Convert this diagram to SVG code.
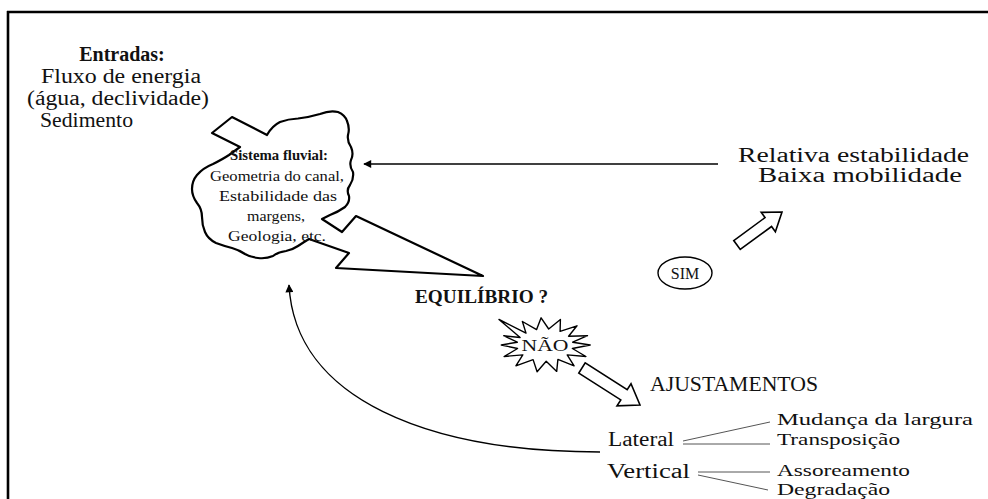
<svg xmlns="http://www.w3.org/2000/svg" width="988" height="499" viewBox="0 0 988 499">
<defs>
<style>
text{font-family:"Liberation Serif","DejaVu Serif",serif;fill:#111}
.b{font-weight:bold}
.outline{fill:#fff;stroke:#000;stroke-width:2.2;stroke-linejoin:round}
.thin{fill:none;stroke:#000;stroke-width:1.4}
.br{fill:none;stroke:#555;stroke-width:1}
.hollow{fill:#fff;stroke:#000;stroke-width:1.6;stroke-linejoin:miter}
</style>
<marker id="ah" viewBox="0 0 10 10" refX="9" refY="5" markerUnits="userSpaceOnUse" markerWidth="9" markerHeight="8" orient="auto">
<path d="M0,0 L10,5 L0,10 z" fill="#000"/>
</marker>
</defs>
<rect width="988" height="499" fill="#fff"/>
<g id="frame">
<path d="M7,12 H988 M8,11 V499" fill="none" stroke="#000" stroke-width="2.6"/>
</g>

<g id="entradas">
<text class="b" x="122" y="61" font-size="20" text-anchor="middle">Entradas:</text>
<text x="121" y="83" font-size="20" text-anchor="middle" textLength="160" lengthAdjust="spacingAndGlyphs">Fluxo de energia</text>
<text x="118" y="105" font-size="20" text-anchor="middle" textLength="182" lengthAdjust="spacingAndGlyphs">(água, declividade)</text>
<text x="40" y="127" font-size="20" textLength="93" lengthAdjust="spacingAndGlyphs">Sedimento</text>
</g>

<g id="sistema">
<path class="outline" d="M267,135 Q272,126 280,122 Q288,119 298,118.5 Q310,117 320,114 Q330,110 338,112 Q345,115 347,121 Q350,128 348,135 Q347,141 351,147 Q354,154 351,160 Q349,166 353,172 Q354,179 350,185 Q346,190 349,196 Q350,202 345,207 Q338,212 330,215 L322,219 L342,232 L356,216 L483,276 L336,268 L349,253 L309,239 Q304,242 298,246 Q292,250 286,251 Q278,252 273,256 Q266,259 258,258 Q250,257 245,254 Q239,250 232,248 Q224,246 216,243 Q208,239 205,232 Q202,225 202,217 Q202,209 197,203 Q192,196 192,189 Q192,181 197,175 Q203,168 213,164 Q223,159 229,155 L240,147 L212,133 L232,117 Z"/>
<text class="b" x="279" y="160" font-size="15" text-anchor="middle" textLength="98" lengthAdjust="spacingAndGlyphs">Sistema fluvial:</text>
<text x="277" y="181" font-size="15" text-anchor="middle" textLength="134" lengthAdjust="spacingAndGlyphs">Geometria do canal,</text>
<text x="278" y="201" font-size="15" text-anchor="middle" textLength="118" lengthAdjust="spacingAndGlyphs">Estabilidade das</text>
<text x="276" y="221" font-size="15" text-anchor="middle" textLength="58" lengthAdjust="spacingAndGlyphs">margens,</text>
<text x="277" y="241" font-size="15" text-anchor="middle" textLength="98" lengthAdjust="spacingAndGlyphs">Geologia, etc.</text>
</g>

<g id="relativa">
<text x="738" y="162" font-size="20" textLength="231" lengthAdjust="spacingAndGlyphs">Relativa estabilidade</text>
<text x="758" y="182" font-size="20" textLength="204" lengthAdjust="spacingAndGlyphs">Baixa mobilidade</text>
</g>

<g id="equilibrio">
<text class="b" x="415" y="303" font-size="19" textLength="133" lengthAdjust="spacingAndGlyphs">EQUILÍBRIO ?</text>
</g>

<g id="sim">
<ellipse cx="685" cy="273" rx="27" ry="16" fill="#fff" stroke="#000" stroke-width="1.4"/>
<text x="685" y="279" font-size="16" text-anchor="middle">SIM</text>
</g>

<g id="nao">
<polygon class="outline" style="stroke-width:1.4" points="590.2,345 572.4,348.5 585.9,356.5 567.2,354.9 574.1,365.8 557.9,359.4 556.7,371.4 546.2,361.2 537.1,371.8 533.1,359.6 515.9,365.8 522.8,354.9 504.1,356.5 517.6,348.5 501.3,345 517.3,342.2 503.7,335.7 520.1,337.5 499,319.5 526,333.1 522.4,321.5 536.6,329.6 541.1,317.8 548.7,329 560.4,319.5 560.1,331.4 577,325.8 568.6,336.3 587.5,335.7 572.7,342.2"/>
<text x="545" y="351" font-size="17" text-anchor="middle" textLength="47" lengthAdjust="spacingAndGlyphs">NÃO</text>
</g>

<g id="ajustamentos">
<text x="650" y="391" font-size="20" textLength="168" lengthAdjust="spacingAndGlyphs">AJUSTAMENTOS</text>
</g>

<g id="lateral">
<text x="608" y="446" font-size="20" textLength="66" lengthAdjust="spacingAndGlyphs">Lateral</text>
<text x="777" y="425" font-size="17" textLength="196" lengthAdjust="spacingAndGlyphs">Mudança da largura</text>
<text x="777" y="445" font-size="17" textLength="123" lengthAdjust="spacingAndGlyphs">Transposição</text>
</g>

<g id="vertical">
<text x="607" y="478" font-size="20" textLength="83" lengthAdjust="spacingAndGlyphs">Vertical</text>
<text x="777" y="476" font-size="17" textLength="133" lengthAdjust="spacingAndGlyphs">Assoreamento</text>
<text x="777" y="495" font-size="17" textLength="113" lengthAdjust="spacingAndGlyphs">Degradação</text>
</g>

<g id="connectors">
<line class="thin" x1="718" y1="164" x2="364" y2="164" marker-end="url(#ah)"/>
<path class="thin" d="M600,452 C430,452 295,400 289,285" marker-end="url(#ah)"/>
<polygon class="hollow" points="740.25,249.44 771.54,226.49 775.39,231.73 782,212 761.19,212.37 765.04,217.61 733.75,240.56"/>
<polygon class="hollow" points="578.8,373.1 620.8,399.9 617,405.8 640,405 631,383.8 627.2,389.7 585.2,362.9"/>
<path class="br" d="M683,441 L770,422 M683,444 L770,444 M698,472 L770,472 M698,475 L768,490"/>
</g>
</svg>
